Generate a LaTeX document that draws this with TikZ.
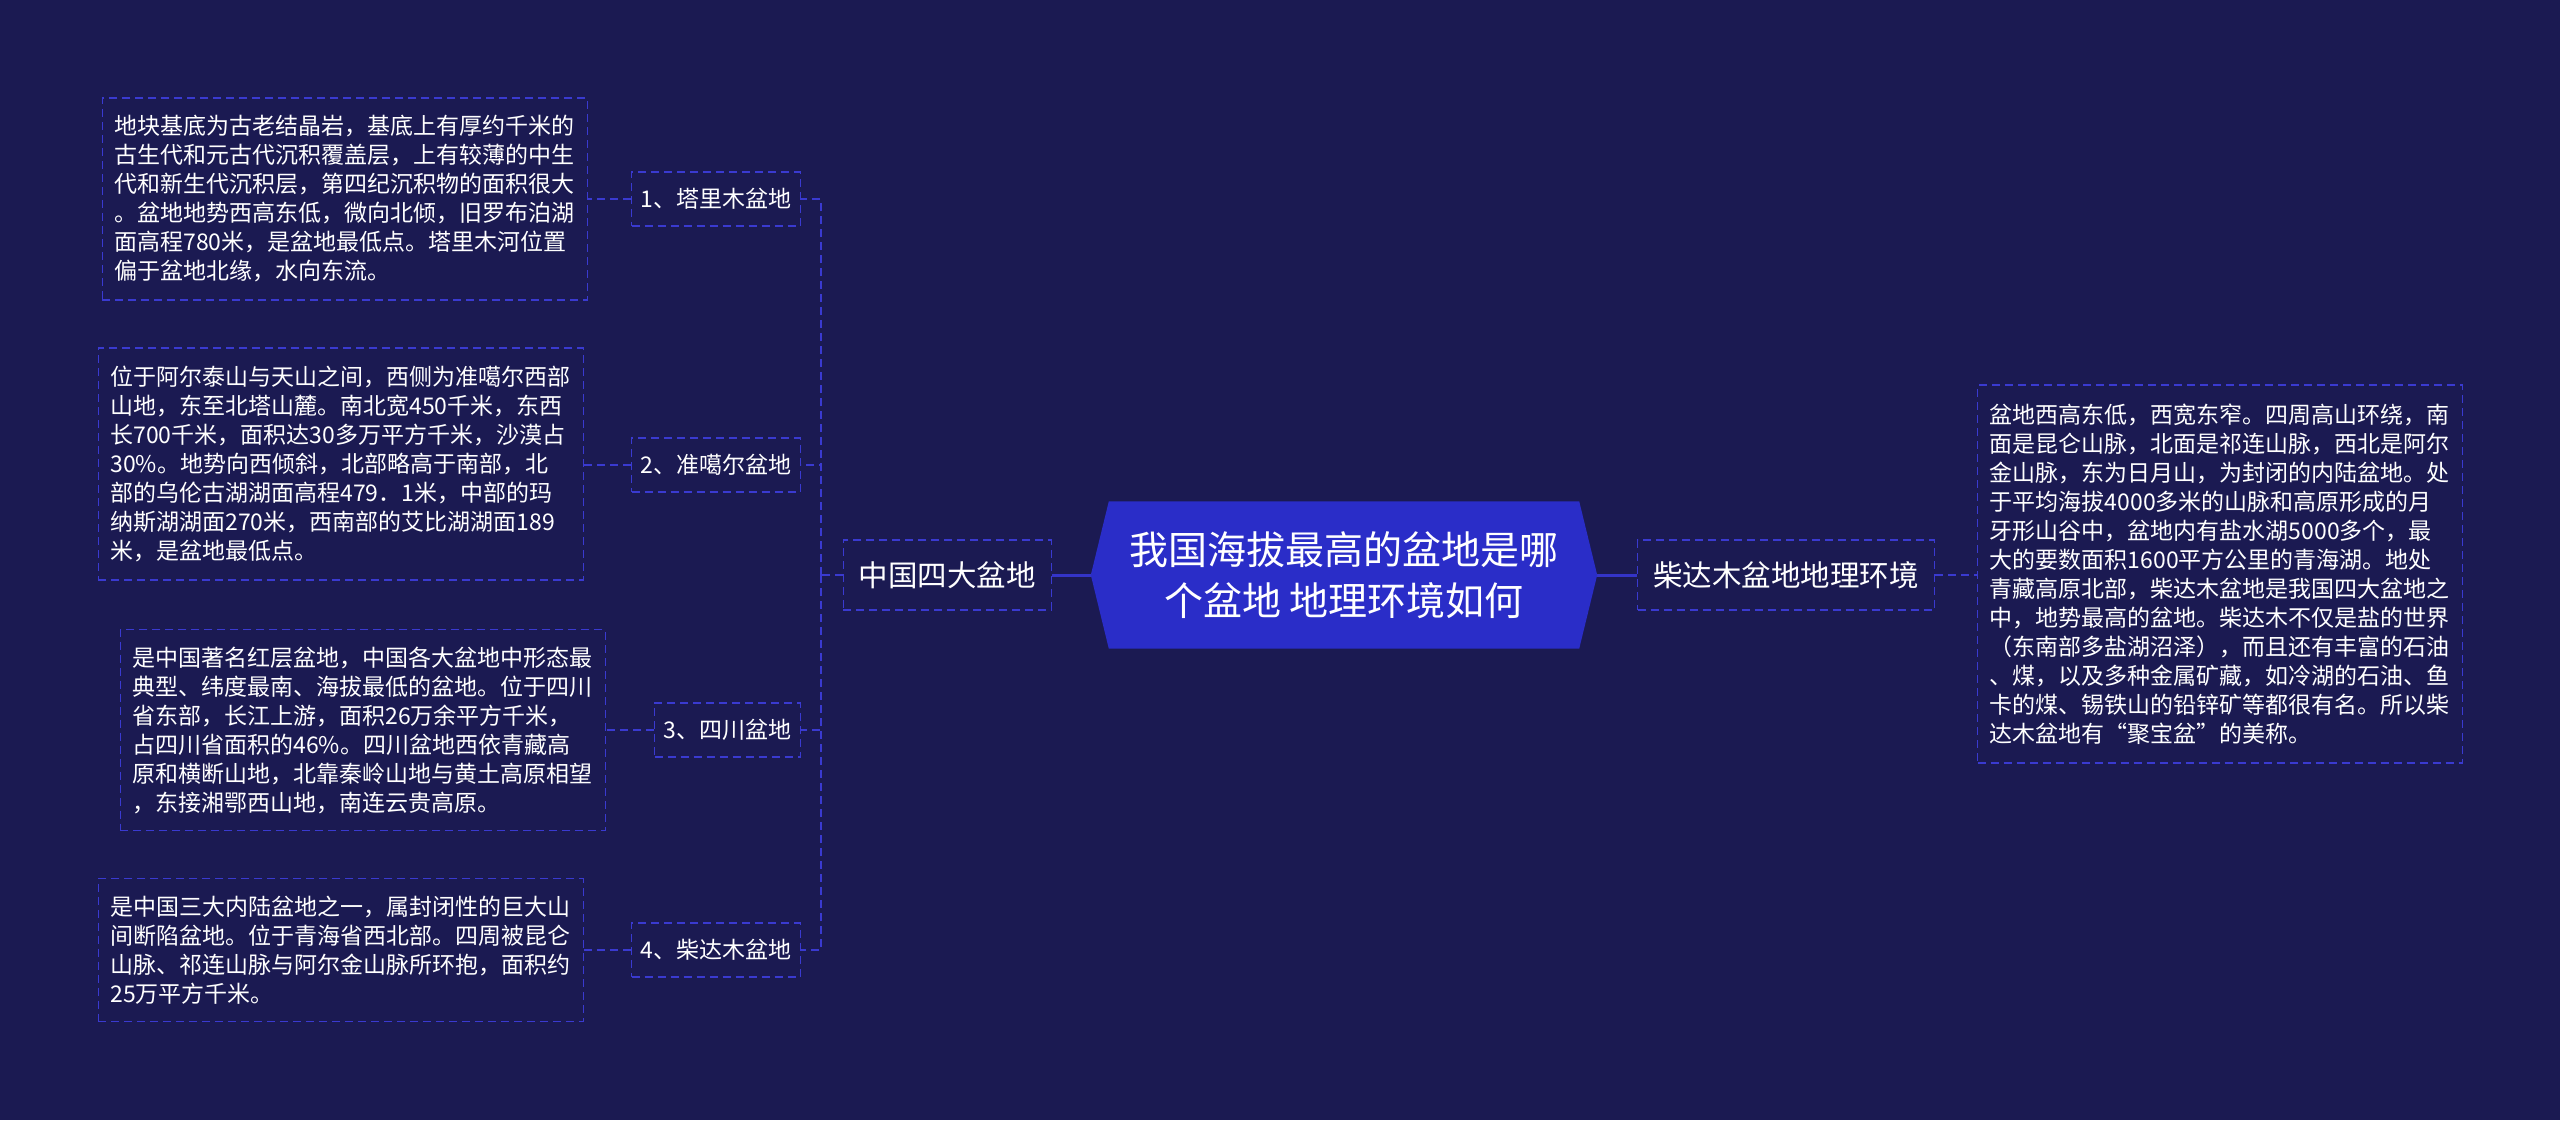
\documentclass[tikz,border=0pt]{standalone}
\usepackage{fontspec}
\setmainfont{Noto Sans CJK SC}
\usetikzlibrary{backgrounds}
\definecolor{bg}{HTML}{1B1A52}
\definecolor{dashblue}{HTML}{3A3AD0}
\definecolor{centralfill}{HTML}{2A2DC8}
\definecolor{linkblue}{HTML}{3434C8}
\begin{document}
\begin{tikzpicture}[x=1pt,y=-1pt,
  dashline/.style={draw=dashblue, line width=1.4pt, dash pattern=on 8pt off 5pt},
  link/.style={draw=linkblue, line width=3pt},
  txtbox/.style={dashline, text=white, font=\fontsize{23pt}{29pt}\selectfont, align=left, text width=461pt, inner xsep=12pt, inner ysep=0pt, minimum height=#1},
  lbl/.style={dashline, text=white, font=\fontsize{23pt}{29pt}\selectfont, inner xsep=9pt, inner ysep=0pt, minimum height=54pt, anchor=east},
  mainlbl/.style={dashline, text=white, font=\fontsize{29.5pt}{36pt}\selectfont, inner xsep=15.5pt, inner ysep=0pt, minimum height=70pt},
  centraltxt/.style={text=white, font=\fontsize{39pt}{51pt}\selectfont, align=center, minimum width=470pt, minimum height=147pt, inner sep=0pt}
]
\useasboundingbox (0,0) rectangle (2560,1120);
\begin{scope}[on background layer]
  \fill[bg] (0,0) rectangle (2560,1120);
\end{scope}

% central
\node[centraltxt] (c) at (1344,575) {我国海拔最高的盆地是哪\\个盆地 地理环境如何};
\begin{scope}[on background layer]
  \fill[centralfill] (c.north west) -- (c.north east) -- ([xshift=18pt]c.east) -- (c.south east) -- (c.south west) -- ([xshift=-18pt]c.west) -- cycle;
\end{scope}

% main branches
\node[mainlbl, anchor=east] (ml) at (1052,575) {中国四大盆地};
\node[mainlbl, anchor=west] (mr) at (1637,575) {柴达木盆地地理环境};

% labels
\node[lbl] (L1) at (801,199) {1、塔里木盆地};
\node[lbl] (L2) at (801,465) {2、准噶尔盆地};
\node[lbl] (L3) at (801,730) {3、四川盆地};
\node[lbl] (L4) at (801,950) {4、柴达木盆地};

% text boxes
\node[txtbox=202pt, anchor=east] (B1) at (588,199) {地块基底为古老结晶岩，基底上有厚约千米的\\古生代和元古代沉积覆盖层，上有较薄的中生\\代和新生代沉积层，第四纪沉积物的面积很大\\。盆地地势西高东低，微向北倾，旧罗布泊湖\\面高程780米，是盆地最低点。塔里木河位置\\偏于盆地北缘，水向东流。};
\node[txtbox=232pt, anchor=east] (B2) at (584,464) {位于阿尔泰山与天山之间，西侧为准噶尔西部\\山地，东至北塔山麓。南北宽450千米，东西\\长700千米，面积达30多万平方千米，沙漠占\\30\%。地势向西倾斜，北部略高于南部，北\\部的乌伦古湖湖面高程479．1米，中部的玛\\纳斯湖湖面270米，西南部的艾比湖湖面189\\米，是盆地最低点。};
\node[txtbox=201pt, anchor=east] (B3) at (606,730) {是中国著名红层盆地，中国各大盆地中形态最\\典型、纬度最南、海拔最低的盆地。位于四川\\省东部，长江上游，面积26万余平方千米，\\占四川省面积的46\%。四川盆地西依青藏高\\原和横断山地，北靠秦岭山地与黄土高原相望\\，东接湘鄂西山地，南连云贵高原。};
\node[txtbox=143pt, anchor=east] (B4) at (584,950) {是中国三大内陆盆地之一，属封闭性的巨大山\\间断陷盆地。位于青海省西北部。四周被昆仑\\山脉、祁连山脉与阿尔金山脉所环抱，面积约\\25万平方千米。};
\node[txtbox=378pt, anchor=west] (R) at (1977,574) {盆地西高东低，西宽东窄。四周高山环绕，南\\面是昆仑山脉，北面是祁连山脉，西北是阿尔\\金山脉，东为日月山，为封闭的内陆盆地。处\\于平均海拔4000多米的山脉和高原形成的月\\牙形山谷中，盆地内有盐水湖5000多个，最\\大的要数面积1600平方公里的青海湖。地处\\青藏高原北部，柴达木盆地是我国四大盆地之\\中，地势最高的盆地。柴达木不仅是盐的世界\\（东南部多盐湖沼泽），而且还有丰富的石油\\、煤，以及多种金属矿藏，如冷湖的石油、鱼\\卡的煤、锡铁山的铅锌矿等都很有名。所以柴\\达木盆地有“聚宝盆”的美称。};

% connectors
\draw[link] ([xshift=-18pt]c.west) -- (ml.east);
\draw[link] ([xshift=18pt]c.east) -- (mr.west);
\coordinate (t) at (821,575);
\draw[dashline] (ml.west) -- (t);
\draw[dashline] (t) |- (L1.east);
\draw[dashline] (t) |- (L2.east);
\draw[dashline] (t) |- (L3.east);
\draw[dashline] (t) |- (L4.east);
\draw[dashline] (L1.west) -- (B1.east |- L1.west);
\draw[dashline] (L2.west) -- (B2.east |- L2.west);
\draw[dashline] (L3.west) -- (B3.east |- L3.west);
\draw[dashline] (L4.west) -- (B4.east |- L4.west);
\draw[dashline] (mr.east) -- (R.west |- mr.east);
\end{tikzpicture}
\end{document}
